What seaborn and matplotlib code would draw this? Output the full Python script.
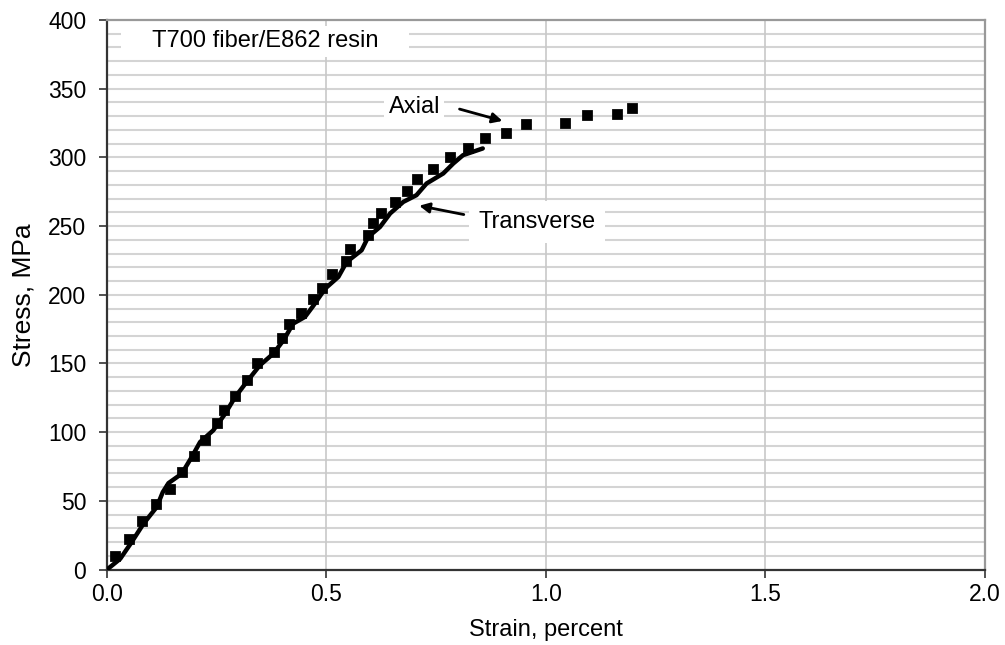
"""
Stress-strain curve, T700 fiber / E862 resin.
"""

import matplotlib
matplotlib.use("Agg")
import matplotlib.pyplot as plt
import numpy as np
import pandas as pd
import seaborn as sns

# Axial measurements (squares)
axial_strain = [0.018, 0.050, 0.080, 0.111, 0.143, 0.170, 0.197, 0.223, 0.251,
                0.266, 0.292, 0.318, 0.341, 0.380, 0.398, 0.415, 0.443, 0.470,
                0.489, 0.512, 0.544, 0.553, 0.595, 0.605, 0.625, 0.656, 0.683,
                0.707, 0.743, 0.781, 0.823, 0.861, 0.910, 0.954, 1.043, 1.093,
                1.162, 1.195]
axial_stress = [9.5, 21.9, 35.2, 47.9, 58.5, 70.7, 82.6, 94.0, 107.0,
                115.8, 126.3, 138.2, 150.6, 158.3, 168.8, 178.5, 187.0, 196.7,
                205.2, 215.0, 224.4, 233.0, 243.4, 252.3, 259.2, 267.6, 275.4,
                284.6, 291.7, 300.4, 306.5, 313.8, 317.9, 324.0, 324.7, 330.6,
                331.5, 336.1]

# Transverse measurements (solid line)
trans_strain = [0.0, 0.030, 0.056, 0.083, 0.113, 0.127, 0.140, 0.170, 0.193,
                0.212, 0.242, 0.269, 0.292, 0.318, 0.348, 0.379, 0.402, 0.424,
                0.451, 0.470, 0.497, 0.527, 0.546, 0.580, 0.595, 0.622, 0.645,
                0.675, 0.705, 0.728, 0.766, 0.789, 0.811, 0.856]
trans_stress = [0.0, 7.8, 19.9, 33.3, 45.4, 56.3, 62.9, 69.7, 81.9,
                92.8, 101.3, 113.4, 125.6, 136.5, 148.6, 157.2, 166.9, 179.0,
                183.9, 192.0, 204.5, 213.0, 223.9, 232.4, 242.1, 249.4, 259.2,
                267.6, 272.5, 281.0, 288.3, 295.6, 301.6, 306.5]

x_ticks = [0.0, 0.5, 1.0, 1.5, 2.0]
y_ticks = list(range(0, 401, 50))

sns.set_theme(style="white")
plt.rcParams["font.family"] = ["Liberation Sans", "DejaVu Sans"]
plt.rcParams["text.color"] = "black"
plt.rcParams["axes.labelcolor"] = "black"
plt.rcParams["xtick.labelcolor"] = "black"
plt.rcParams["ytick.labelcolor"] = "black"

axial = pd.DataFrame({"strain": axial_strain, "stress": axial_stress})
trans = pd.DataFrame({"strain": trans_strain, "stress": trans_stress})

fig = plt.figure(figsize=(10.05, 6.45), dpi=100)
ax = fig.add_axes([0.1065, 0.117, 0.8735, 0.852])

# Grid: horizontal every 10 MPa, vertical every 0.5
for yv in np.arange(10, 400, 10):
    ax.axhline(yv, color="#d4d4d4", lw=1.5, zorder=0)
for xv in x_ticks[1:-1]:
    ax.axvline(xv, color="#c8c8c8", lw=1.2, zorder=0)

sns.lineplot(data=trans, x="strain", y="stress", sort=False, color="black",
             lw=3.2, ax=ax, zorder=3)
sns.scatterplot(data=axial, x="strain", y="stress", marker="s", s=48,
                color="black", edgecolor="black", ax=ax, zorder=4)

ax.set_xlim(0, 2.0)
ax.set_ylim(0, 400)
ax.set_xticks(x_ticks)
ax.set_xticklabels([f"{v:.1f}" for v in x_ticks])
ax.set_yticks(y_ticks)
ax.tick_params(axis="both", labelsize=16.5, length=6, width=1.2,
               direction="out", color="#333333", labelcolor="black",
               left=True, bottom=True)
ax.tick_params(axis="y", pad=9)
ax.tick_params(axis="x", pad=4)
ax.set_xlabel("Strain, percent", fontsize=17, labelpad=9, color="black")
ax.set_ylabel("Stress, MPa", fontsize=19, labelpad=9, color="black")

for side in ["left", "bottom"]:
    ax.spines[side].set_color("#333333")
    ax.spines[side].set_linewidth(1.6)
for side in ["top", "right"]:
    ax.spines[side].set_color("#999999")
    ax.spines[side].set_linewidth(1.6)

ax.text(0.36, 384.5, "    T700 fiber/E862 resin    ", fontsize=17,
        ha="center", va="center", color="black",
        bbox=dict(facecolor="white", edgecolor="none", pad=3), zorder=5)
ax.text(0.70, 336.5, "Axial", fontsize=17, ha="center", va="center",
        color="black",
        bbox=dict(facecolor="white", edgecolor="none", pad=3), zorder=5)
ax.text(0.98, 253, "Transverse", fontsize=17, ha="center", va="center",
        color="black",
        bbox=dict(facecolor="white", edgecolor="none", pad=7), zorder=5)

arrow = dict(arrowstyle="-|>", color="black", lw=2, mutation_scale=15)
ax.annotate("", xy=(0.907, 326), xytext=(0.797, 335.7), arrowprops=arrow,
            zorder=6)
ax.annotate("", xy=(0.705, 265.2), xytext=(0.819, 258), arrowprops=arrow,
            zorder=6)

fig.savefig("out.png", dpi=100)
plt.close(fig)
